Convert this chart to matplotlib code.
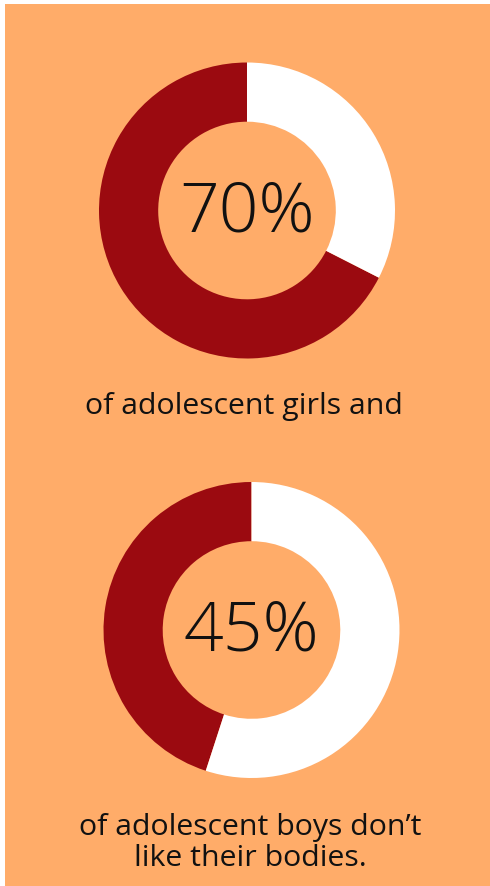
import matplotlib
matplotlib.use("Agg")
import matplotlib.pyplot as plt

# Data
labels = ["70%", "45%"]
share_yes = [67.5, 45]          # red portion as drawn
share_no = [32.5, 55]           # white portion
captions = ["of adolescent girls and", "of adolescent boys don\u2019t\nlike their bodies."]

RED = "#9B0A10"
ORANGE = "#FFAC69"
W, H = 490, 886
fig = plt.figure(figsize=(W / 100, H / 100), dpi=100, facecolor="white")
bg = fig.add_axes([5 / W, 0, 1 - 5 / W, 1 - 4 / H], zorder=-5)
bg.set_facecolor(ORANGE)
bg.set_xticks([]); bg.set_yticks([])
for s in bg.spines.values():
    s.set_visible(False)

centers = [(247, 210.5), (251.5, 630)]
R = 148
font = ["Open Sans", "DejaVu Sans"]

for (cx, cy), yes, no, lab in zip(centers, share_yes, share_no, labels):
    ax = fig.add_axes([(cx - R) / W, 1 - (cy + R) / H, 2 * R / W, 2 * R / H])
    ax.set_facecolor("none")
    ax.pie([yes, no], colors=[RED, "white"], startangle=90, counterclock=True,
           radius=1, wedgeprops=dict(width=0.4, edgecolor="none"))
    ax.set_xlim(-1, 1)
    ax.set_ylim(-1, 1)
    ax.set_aspect("equal")
    ax.axis("off")
    ax.text(0, -0.02, lab, ha="center", va="center", fontsize=50, family=font,
            weight="light", color="#111111")

fig.text(244 / W, 1 - 407 / H, captions[0], ha="center", va="center", fontsize=21.8,
         family=font, color="#111111")
fig.text(250 / W, 1 - 843 / H, captions[1], ha="center", va="center", fontsize=21.8,
         family=font, color="#111111", linespacing=1.1)

fig.savefig("out.png", dpi=100, facecolor="white")
